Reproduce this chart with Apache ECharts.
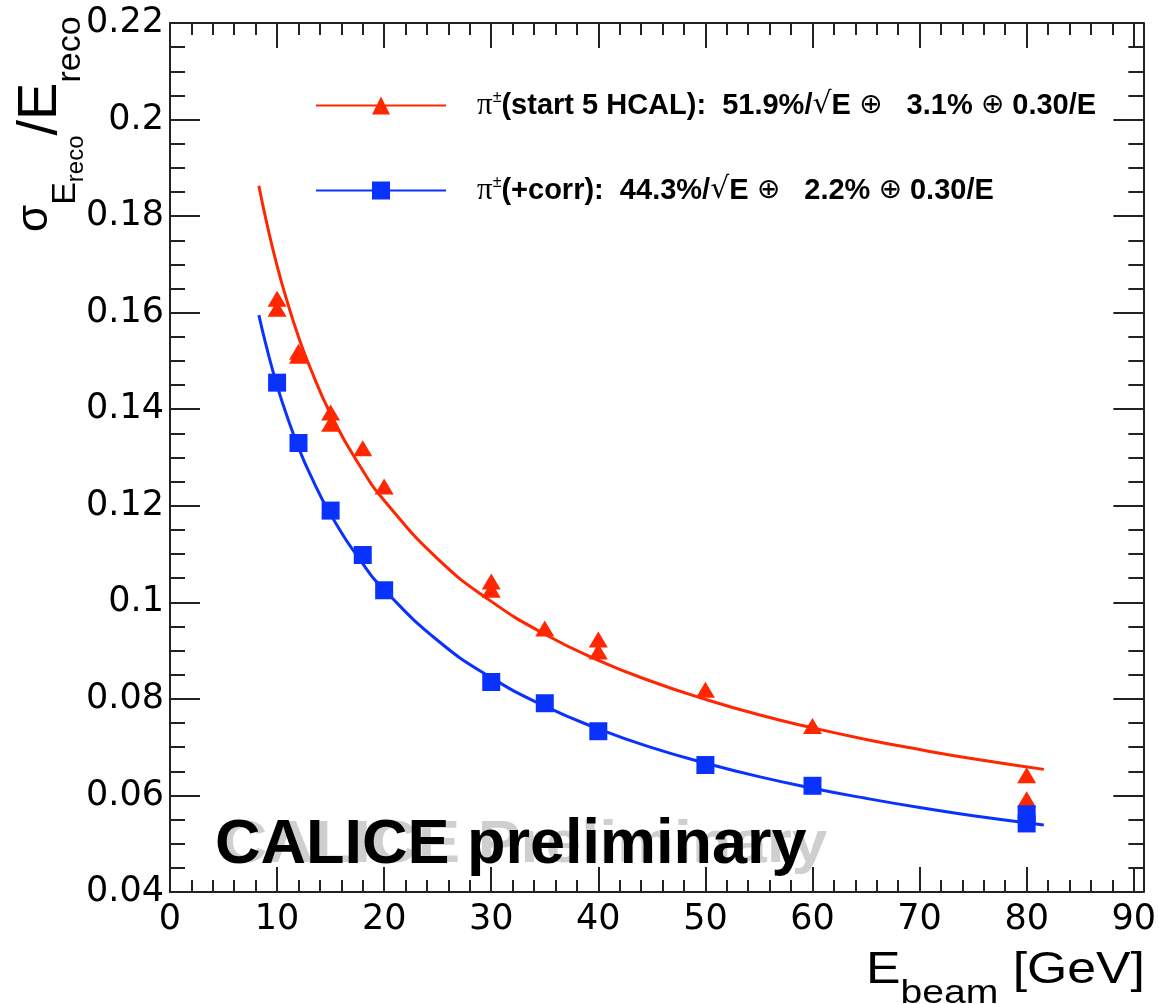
<!DOCTYPE html>
<html>
<head>
<meta charset="utf-8">
<script src="https://cdn.jsdelivr.net/npm/echarts@6/dist/echarts.min.js"></script>
<style>
html, body { margin: 0; padding: 0; background: #fff; }
#chart { width: 1159px; height: 1004px; }
</style>
</head>
<body>
<div id="chart"></div>
<script>
// measured points: pi+- (start 5 HCAL)
var pionE   = [10, 10, 12, 12, 15, 15, 18, 20, 30, 30, 35, 40, 40, 50, 60, 80, 80];
var pionRes = [0.1629, 0.1608, 0.1519, 0.1511, 0.1393, 0.1370, 0.1319, 0.1240, 0.1043, 0.1026, 0.0946, 0.0923, 0.0898, 0.0819, 0.0744, 0.0642, 0.0592];
// measured points: pi+- (+corr)
var corrE   = [10, 12, 15, 18, 20, 30, 35, 40, 50, 60, 80, 80];
var corrRes = [0.1455, 0.1330, 0.1190, 0.1098, 0.1025, 0.0835, 0.0791, 0.0733, 0.0663, 0.0620, 0.0561, 0.0542];
// fit curves
var fitE    = [8.3, 9, 10, 11, 12, 13, 15, 18, 20, 25, 30, 35, 40, 45, 50, 55, 60, 65, 70, 75, 81.6];
var fitPion = [0.1863, 0.1789, 0.1697, 0.1619, 0.1550, 0.1491, 0.1390, 0.1273, 0.1211, 0.1090, 0.1002, 0.0934, 0.0880, 0.0836, 0.0799, 0.0767, 0.0740, 0.0716, 0.0695, 0.0676, 0.0654];
var fitCorr = [0.1595, 0.1530, 0.1449, 0.1381, 0.1321, 0.1269, 0.1182, 0.1080, 0.1026, 0.0921, 0.0844, 0.0785, 0.0738, 0.0699, 0.0667, 0.0639, 0.0615, 0.0594, 0.0575, 0.0558, 0.0539];
// axis ticks
var xMajorTicks = [0, 10, 20, 30, 40, 50, 60, 70, 80, 90];
var xMinorTicks = [2, 4, 6, 8, 12, 14, 16, 18, 22, 24, 26, 28, 32, 34, 36, 38, 42, 44, 46, 48, 52, 54, 56, 58, 62, 64, 66, 68, 72, 74, 76, 78, 82, 84, 86, 88];

var RED = '#ff2600';
var BLUE = '#0a32ff';
var AXC = '#222';

function zip(a, b) {
    var out = [];
    for (var i = 0; i < a.length; i++) out.push([a[i], b[i]]);
    return out;
}

var chart = echarts.init(document.getElementById('chart'), null, {renderer: 'canvas'});

// x axes: bottom (with labels), bottom minor, top, top minor
var xAxes = [];
['bottom', 'top'].forEach(function (pos) {
    xAxes.push({
        type: 'value', position: pos, min: 0, max: 90.9,
        axisLine: {show: true, onZero: false, lineStyle: {color: AXC, width: 2}},
        axisTick: {show: true, inside: true, length: 25, customValues: xMajorTicks, lineStyle: {color: AXC, width: 2}},
        axisLabel: pos === 'bottom'
            ? {show: true, customValues: xMajorTicks, margin: 10, color: '#000', fontFamily: '"DejaVu Sans"', fontSize: 35}
            : {show: false},
        splitLine: {show: false}
    });
    xAxes.push({
        type: 'value', position: pos, min: 0, max: 90.9,
        axisLine: {show: false, onZero: false},
        axisTick: {show: true, inside: true, length: 12, customValues: xMinorTicks, lineStyle: {color: AXC, width: 2}},
        axisLabel: {show: false},
        splitLine: {show: false}
    });
});

var yAxes = ['left', 'right'].map(function (pos) {
    return {
        type: 'value', position: pos, min: 0.04, max: 0.22, interval: 0.02,
        axisLine: {show: true, onZero: false, lineStyle: {color: AXC, width: 2}},
        axisTick: {show: true, inside: true, length: 30, lineStyle: {color: AXC, width: 2}},
        minorTick: {show: true, splitNumber: 4, length: 15, lineStyle: {color: AXC, width: 2}},
        axisLabel: pos === 'left'
            ? {show: true, margin: 6, color: '#000', fontFamily: '"DejaVu Sans"', fontSize: 35,
               formatter: function (v) { return String(+v.toFixed(3)); }}
            : {show: false},
        splitLine: {show: false}
    };
});

// legend icons: line with marker in the middle (130 x 18)
var triIcon = 'path://M0 8L130 8L130 10L0 10Z M56 18L65 0L74 18Z';
var sqIcon  = 'path://M0 8L130 8L130 10L0 10Z M56 0L74 0L74 18L56 18Z';

var legendRich = {
    p: {fontFamily: '"Liberation Serif"', fontSize: 31, color: '#000', padding: [0, 0, 0, 26]},
    s: {fontFamily: '"Liberation Sans"', fontSize: 16, color: '#000', verticalAlign: 'top', height: 16},
    b: {fontFamily: '"Liberation Sans"', fontWeight: 'bold', fontSize: 29, color: '#000'},
    o: {fontFamily: '"DejaVu Sans"', fontSize: 28, color: '#000'},
    r: {fontFamily: '"DejaVu Sans"', fontSize: 30, color: '#000'}
};
var legendText = {
    pion: '{p|π}{s|±}{b|(start 5 HCAL):  51.9%/}{r|√}{b|E }{o|⊕}{b|   3.1% }{o|⊕}{b| 0.30/E}',
    corr: '{p|π}{s|±}{b|(+corr):  44.3%/}{r|√}{b|E }{o|⊕}{b|   2.2% }{o|⊕}{b| 0.30/E}'
};

function legendAt(name, icon, top) {
    return {
        left: 316, top: top, padding: 0, orient: 'horizontal', selectedMode: false,
        itemWidth: 130, itemHeight: 18,
        data: [{name: name, icon: icon}],
        formatter: function (n) { return legendText[n]; },
        textStyle: {rich: legendRich}
    };
}

var option = {
    backgroundColor: '#fff',
    animation: false,
    grid: {left: 170, right: 15, top: 23, bottom: 112},
    xAxis: xAxes,
    yAxis: yAxes,
    legend: [legendAt('pion', triIcon, 90), legendAt('corr', sqIcon, 175)],
    graphic: [
        {   // y axis title, reading bottom to top
            type: 'text', x: 12, y: 232, rotation: Math.PI / 2,
            style: {
                text: '{s|σ}{e|E}{r|reco}{b|/E}{q|reco}',
                align: 'left', verticalAlign: 'top',
                rich: {
                    s: {fontFamily: '"Liberation Sans"', fontSize: 44, fill: '#000', verticalAlign: 'top', height: 45},
                    e: {fontFamily: '"Liberation Sans"', fontSize: 34, fill: '#000', verticalAlign: 'top', height: 108},
                    r: {fontFamily: '"Liberation Sans"', fontSize: 24, fill: '#000', verticalAlign: 'top', height: 129},
                    b: {fontFamily: '"Liberation Sans"', fontSize: 56, fill: '#000', verticalAlign: 'top', height: 57},
                    q: {fontFamily: '"Liberation Sans"', fontSize: 34, fill: '#000', verticalAlign: 'top', height: 118}
                }
            }
        },
        {   // x axis title
            type: 'text', x: 1145, y: 952, scaleX: 1.15,
            style: {
                text: '{m|E}{s|beam}{m| [GeV]}',
                align: 'right', verticalAlign: 'top',
                rich: {
                    m: {fontFamily: '"Liberation Sans"', fontSize: 45, fill: '#000', verticalAlign: 'top', height: 38},
                    s: {fontFamily: '"Liberation Sans"', fontSize: 34, fill: '#000', verticalAlign: 'top', height: 84}
                }
            }
        },
        {
            type: 'text', x: 221, y: 845, scaleX: 1.07, z: 1,
            style: {text: 'CALICE Preliminary', font: 'bold 60px "Liberation Sans"', fill: '#cfcfcf', verticalAlign: 'middle'}
        },
        {
            type: 'text', x: 215, y: 846, z: 2,
            style: {text: 'CALICE preliminary', font: 'bold 63px "Liberation Sans"', fill: '#000', verticalAlign: 'middle'}
        }
    ],
    series: [
        {
            name: 'fitPion', type: 'line', data: zip(fitE, fitPion), smooth: true,
            showSymbol: false, silent: true, z: 3,
            lineStyle: {color: RED, width: 3}
        },
        {
            name: 'fitCorr', type: 'line', data: zip(fitE, fitCorr), smooth: true,
            showSymbol: false, silent: true, z: 3,
            lineStyle: {color: BLUE, width: 3}
        },
        {
            name: 'pion', type: 'scatter', data: zip(pionE, pionRes),
            symbol: 'triangle', symbolSize: [19, 16], z: 4,
            itemStyle: {color: RED, opacity: 1}
        },
        {
            name: 'corr', type: 'scatter', data: zip(corrE, corrRes),
            symbol: 'rect', symbolSize: 18, z: 4,
            itemStyle: {color: BLUE, opacity: 1}
        }
    ]
};

chart.setOption(option);
</script>
</body>
</html>
